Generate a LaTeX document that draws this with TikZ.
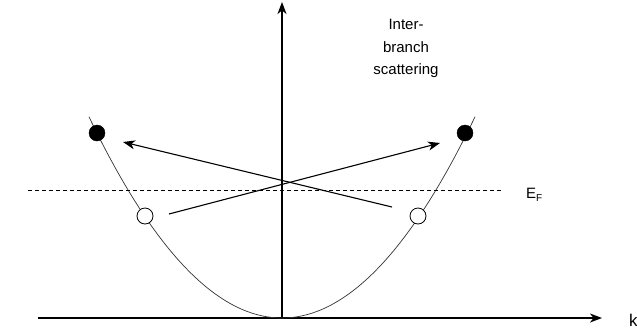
\documentclass[tikz,border=0pt]{standalone}
\usepackage{fontspec}
\setmainfont{Liberation Sans}
\usetikzlibrary{arrows.meta}
\begin{document}
\begin{tikzpicture}[x=1pt,y=-1pt,
  axis/.style={line width=1.1pt,-{Stealth[length=12pt,width=9pt,inset=3.5pt]}},
  scat/.style={line width=1.1pt,-{Stealth[length=12pt,width=9pt,inset=3.5pt]}},
  band/.style={line width=0.7pt,draw=black!80},
  full/.style={circle,fill=black,draw=black,minimum size=16pt,inner sep=0pt},
  empty/.style={circle,fill=white,draw=black,line width=0.8pt,minimum size=16pt,inner sep=0pt},
  lbl/.style={font=\fontsize{15}{22.5}\selectfont,align=center,inner sep=0pt}]
\useasboundingbox (0,0) rectangle (637,333);
% axes
\coordinate (xs) at (38,318);
\coordinate (xe) at (602,318);
\coordinate (ys) at (282,318);
\coordinate (ye) at (282,2);
\draw[axis] (xs) -- (xe);
\draw[axis] (ys) -- (ye);
% band
\draw[band,domain=89:475,samples=120] plot (\x,{318-0.0054*(\x-282)*(\x-282)});
% Fermi level
\coordinate (fs) at (28,190);
\coordinate (fe) at (502,190);
\draw[line width=0.8pt,dash pattern=on 4pt off 3pt] (fs) -- (fe);
% scattering arrows
\coordinate (a1) at (392,207);
\coordinate (a2) at (123,142);
\coordinate (b1) at (169,214);
\coordinate (b2) at (440,143);
\draw[scat] (a1) -- (a2);
\draw[scat] (b1) -- (b2);
% states
\node[full] (fl) at (97,133) {};
\node[full] (fr) at (465,133) {};
\node[empty] (el) at (145,216) {};
\node[empty] (er) at (418,216) {};
% labels
\node[lbl,anchor=north] (lab) at (406,19) {Inter-\\branch\\scattering};
\node[font=\fontsize{15}{17}\selectfont,anchor=base west,inner sep=0pt] (ef) at (526,198) {E\raisebox{-3pt}{\fontsize{10}{12}\selectfont F}};
\node[font=\fontsize{17}{19}\selectfont,anchor=base west,inner sep=0pt] (k) at (629,326) {k};
\end{tikzpicture}
\end{document}
